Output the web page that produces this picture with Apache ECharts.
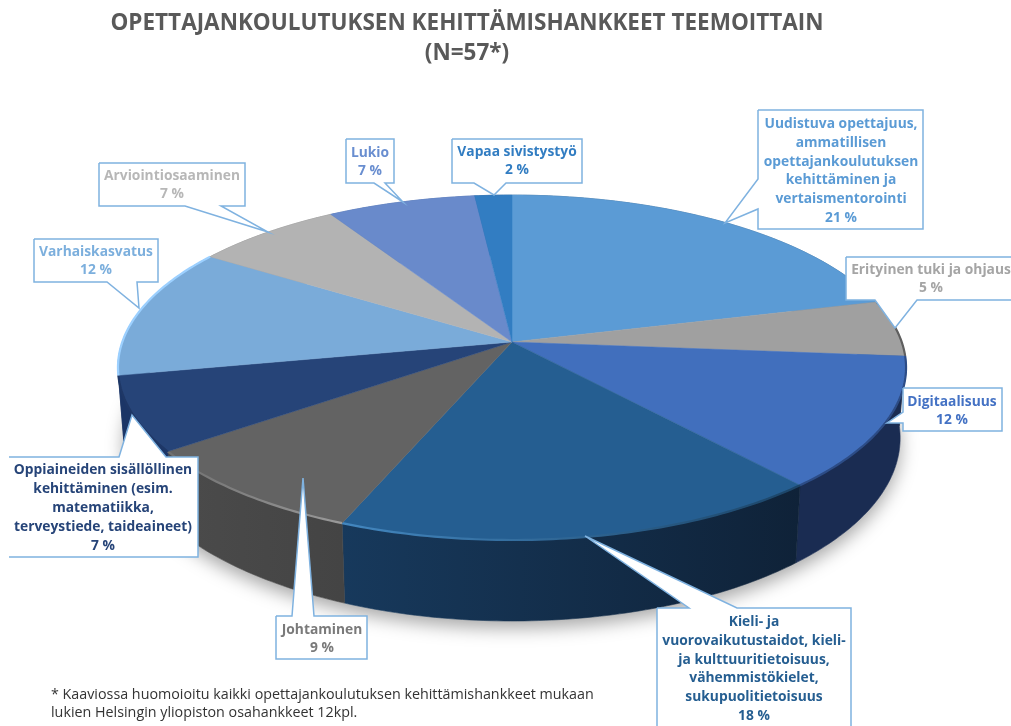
<!DOCTYPE html>
<html><head><meta charset="utf-8">
<style>html,body{margin:0;padding:0;background:#fff}#c{width:1011px;height:726px}</style>
<script src="https://cdn.jsdelivr.net/npm/echarts@6/dist/echarts.min.js"></script>
</head><body><div id="c"></div>
<script>
// DATA
const titleText = 'OPETTAJANKOULUTUKSEN KEHITTÄMISHANKKEET TEEMOITTAIN\n(N=57*)';
const footnote = '* Kaaviossa huomoioitu kaikki opettajankoulutuksen kehittämishankkeet mukaan\nlukien Helsingin yliopiston osahankkeet 12kpl.';
const themes = [
  'Uudistuva opettajuus,\nammatillisen\nopettajankoulutuksen\nkehittäminen ja\nvertaismentorointi',
  'Erityinen tuki ja ohjaus',
  'Digitaalisuus',
  'Kieli- ja\nvuorovaikutustaidot, kieli-\nja kulttuuritietoisuus,\nvähemmistökielet,\nsukupuolitietoisuus',
  'Johtaminen',
  'Oppiaineiden sisällöllinen\nkehittäminen (esim.\nmatematiikka,\nterveystiede, taideaineet)',
  'Varhaiskasvatus',
  'Arviointiosaaminen',
  'Lukio',
  'Vapaa sivistystyö'
];
const projectCounts = [12, 3, 7, 10, 5, 4, 7, 4, 4, 1];
const percentLabels = ['21 %', '5 %', '12 %', '18 %', '9 %', '7 %', '12 %', '7 %', '7 %', '2 %'];

// STYLE
const topColors  = ['#5B9BD5','#A0A0A0','#416FBD','#255E91','#636363','#264478','#7AABD9','#B3B3B3','#698ACB','#327DC2'];
const wallLeft   = ['#3A6A94','#5A5A5A','#1A2C52','#17395C','#4B4B4B','#1B3566','#1B3566','#888888','#4A6AA8','#245A90'];
const wallRight  = ['#3A6A94','#5A5A5A','#1A2C52','#0F2238','#444444','#1B3566','#1B3566','#888888','#4A6AA8','#245A90'];
const rimLeft    = ['rgba(0,0,0,0)','#5F5F5F','#2C4C86','#4387C0','#6F6F6F','#1E3766','#9CD0FF','rgba(0,0,0,0)','rgba(0,0,0,0)','rgba(0,0,0,0)'];
const rimRight   = ['rgba(0,0,0,0)','#5F5F5F','#2C4C86','#1B4467','#9A9A9A','#1E3766','#9CD0FF','rgba(0,0,0,0)','rgba(0,0,0,0)','rgba(0,0,0,0)'];
const textColors = ['#5B9BD5','#A5A5A5','#4472C4','#255E91','#7A7A7A','#264478','#7CAFDD','#B7B7B7','#698ED0','#327DC2'];
const borderColor = '#7FB2E0';
const labelFont = 'bold 13.8px "Open Sans"';

// LAYOUT
const view = {cx:512, cy:342, R:389.7, S:168.7, k:0.148, depth:69, shrink:0.985};
const callouts = [
  {box:[758,110,923,229], side:'left',   base:[209,179], tip:[725,223], tx:841, ty:171},
  {box:[846,257,1020,300],side:'bottom', base:[875,917], tip:[895,328], tx:931, ty:279},
  {box:[903,388,1002,431],side:'left',   base:[423,412], tip:[887,423], tx:952, ty:411},
  {box:[657,608,851,735], side:'top',    base:[689,737], tip:[585,536], tx:754, ty:669},
  {box:[276,616,367,659], side:'top',    base:[292,314], tip:[303,478], tx:322, ty:639},
  {box:[9,457,198,557],   side:'top',    base:[119,166], tip:[132,415], tx:103, ty:508, open:true},
  {box:[34,239,158,282],  side:'bottom', base:[107,137], tip:[139,308], tx:96,  ty:261},
  {box:[99,163,245,206],  side:'bottom', base:[185,221], tip:[268,232], tx:172, ty:185},
  {box:[346,139,394,183], side:'bottom', base:[374,385], tip:[403,202], tx:370, ty:162},
  {box:[452,139,582,183], side:'bottom', base:[474,506], tip:[494,195], tx:517, ty:161}
];

// PROJECTION of the tilted disc
const total = projectCounts.reduce((a,b)=>a+b,0);
const starts = []; projectCounts.reduce((a,b,i)=>(starts[i]=a,a+b),0);
function proj(f, lower){
  const t = 2*Math.PI*f, x = Math.sin(t), y = -Math.cos(t), d = 1-view.k*y;
  if(!lower) return [view.cx+view.R*x/d, view.cy+view.S*y/d];
  return [view.cx+view.R*view.shrink*x/d, view.cy+view.S*y/d+view.depth/d];
}
function arc(i, lower){
  const a = starts[i]/total, b = (starts[i]+projectCounts[i])/total, n = Math.ceil((b-a)*400)+1, pts=[];
  for(let j=0;j<=n;j++) pts.push(proj(a+(b-a)*j/n, lower));
  return pts;
}
function fullRim(lower){ const p=[]; for(let j=0;j<400;j++) p.push(proj(j/400,lower)); return p; }
function xGradient(pts, left, right){
  const xs=pts.map(p=>p[0]);
  return {type:'linear', x:Math.min(...xs), y:0, x2:Math.max(...xs), y2:0, global:true,
    colorStops:[{offset:0,color:left},{offset:1,color:right}]};
}

function calloutPoints(c){
  const [l,t,r,b]=c.box, w=c.side, s=c.base, tip=c.tip, p=[[l,t]];
  if(w==='top') p.push([s[0],t],tip,[s[1],t]);
  p.push([r,t],[r,b]);
  if(w==='bottom') p.push([s[1],b],tip,[s[0],b]);
  p.push([l,b]);
  if(w==='left') p.push([l,s[0]],tip,[l,s[1]]);
  return p;
}

const plain = {coordinateSystem:'none', silent:true, animation:false, encode:{value:0}};
const option = {
  backgroundColor:'#fff', animation:false,
  title:[
    {text:titleText, left:462, top:4, textAlign:'center',
     textStyle:{fontFamily:'Open Sans', fontWeight:'bold', fontSize:22.5, lineHeight:30, color:'#595959'}},
    {text:footnote, left:46, top:681,
     textStyle:{fontFamily:'Open Sans', fontWeight:'normal', fontSize:14.3, lineHeight:18, color:'#333333'}}
  ],
  series:[
    Object.assign({}, plain, {type:'custom', name:'shadow', data:[total],
      renderItem(){ return {type:'polygon', shape:{points:fullRim(true)},
        style:{fill:'#fff', shadowColor:'rgba(0,0,0,0.35)', shadowBlur:18, shadowOffsetY:7}}; }}),
    Object.assign({}, plain, {type:'custom', name:'walls', data:projectCounts,
      renderItem(params){
        const i=params.dataIndex, top=arc(i,false), low=arc(i,true).reverse();
        const g=xGradient(top, wallLeft[i], wallRight[i]);
        return {type:'polygon', shape:{points:top.concat(low)}, style:{fill:g, stroke:g, lineWidth:0.6}};
      }}),
    Object.assign({}, plain, {type:'custom', name:'tops', data:projectCounts,
      renderItem(params){
        const i=params.dataIndex, rim=arc(i,false);
        return {type:'group', children:[
          {type:'polygon', shape:{points:[[view.cx,view.cy]].concat(rim)},
            style:{fill:topColors[i], stroke:topColors[i], lineWidth:0.5}},
          {type:'polyline', shape:{points:rim},
            style:{fill:'none', stroke:xGradient(rim, rimLeft[i], rimRight[i]), lineWidth:2.2}}
        ]};
      }}),
    Object.assign({}, plain, {type:'custom', name:'callouts', data:projectCounts,
      renderItem(params){
        const i=params.dataIndex, c=callouts[i], pts=calloutPoints(c);
        const outline = c.open ? pts : pts.concat([pts[0]]);
        return {type:'group', children:[
          {type:'polygon', shape:{points:pts}, style:{fill:'#fff'}},
          {type:'polyline', shape:{points:outline}, style:{fill:'none', stroke:borderColor, lineWidth:1.5}},
          {type:'text', style:{text:themes[i]+'\n'+percentLabels[i], x:c.tx, y:c.ty,
            align:'center', verticalAlign:'middle', font:labelFont, lineHeight:18.8, fill:textColors[i]}}
        ]};
      }})
  ]
};
echarts.init(document.getElementById('c'),null,{renderer:'canvas'}).setOption(option);
</script></body></html>
